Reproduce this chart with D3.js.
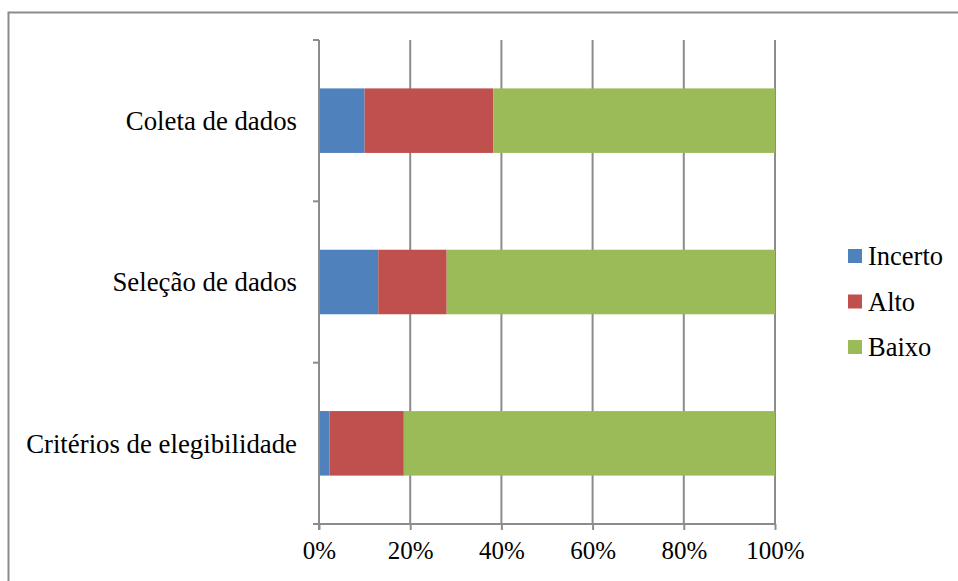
<!DOCTYPE html>
<html>
<head>
<meta charset="utf-8">
<script src="https://cdn.jsdelivr.net/npm/d3@7"></script>
<style>
  html, body { margin: 0; padding: 0; background: #fff; }
  svg { display: block; }
  text { font-family: "Liberation Serif", "Times New Roman", serif; fill: #000; }
</style>
</head>
<body>
<svg id="chart" width="958" height="581"></svg>
<script>
// Risk-of-bias judgements per domain (percent of studies)
const categories = ["Coleta de dados", "Seleção de dados", "Critérios de elegibilidade"];
const seriesNames = ["Incerto", "Alto", "Baixo"];
const incerto = [10, 13, 2.3];
const alto = [28.2, 15, 16.3];
const baixo = [61.8, 72, 81.4];
const tickValues = [0, 20, 40, 60, 80, 100];
const colors = ["#4f81bd", "#c0504d", "#9bbb59"];

const svg = d3.select("#chart");

// Outer frame
svg.append("rect")
  .attr("x", 8.5).attr("y", 12.5)
  .attr("width", 960).attr("height", 600)
  .attr("fill", "none").attr("stroke", "#8c8c8c").attr("stroke-width", 2);

const plot = { left: 319, right: 775, top: 40, bottom: 524 };

const x = d3.scaleLinear().domain([0, 100]).range([plot.left, plot.right]);
const y = d3.scaleBand().domain(categories).range([plot.top, plot.bottom]).paddingInner(0.6).paddingOuter(0.3);

// Vertical gridlines
svg.append("g").selectAll("line")
  .data(tickValues.slice(1))
  .join("line")
  .attr("x1", d => x(d)).attr("x2", d => x(d))
  .attr("y1", plot.top).attr("y2", plot.bottom)
  .attr("stroke", "#8c8c8c").attr("stroke-width", 2);

// Stack the three series
const rows = categories.map((c, i) => ({ cat: c, Incerto: incerto[i], Alto: alto[i], Baixo: baixo[i] }));
const stack = d3.stack().keys(seriesNames)(rows);

svg.append("g").selectAll("g")
  .data(stack)
  .join("g")
  .attr("fill", (d, i) => colors[i])
  .selectAll("rect")
  .data(d => d)
  .join("rect")
  .attr("x", d => x(d[0]))
  .attr("width", d => x(d[1]) - x(d[0]))
  .attr("y", d => y(d.data.cat))
  .attr("height", y.bandwidth());

// X axis (bottom) with tick marks extending below
const xAxis = d3.axisBottom(x)
  .tickValues(tickValues)
  .tickFormat(d => d + "%")
  .tickSize(6)
  .tickSizeOuter(0)
  .tickPadding(11);
const gx = svg.append("g").attr("transform", `translate(0,${plot.bottom})`).call(xAxis);
gx.select(".domain").attr("stroke", "#8c8c8c").attr("stroke-width", 2)
  .attr("d", `M${plot.left - 6},0H${plot.right}`);
gx.selectAll(".tick line").attr("stroke", "#8c8c8c").attr("stroke-width", 2);
gx.selectAll(".tick text").style("font-size", "25px").style("font-family", "Liberation Serif, serif").attr("fill", "#000");

// Y axis: vertical line with boundary ticks between categories
const gy = svg.append("g");
gy.append("line")
  .attr("x1", plot.left).attr("x2", plot.left)
  .attr("y1", plot.top).attr("y2", plot.bottom + 6)
  .attr("stroke", "#8c8c8c").attr("stroke-width", 2);
const step = (plot.bottom - plot.top) / categories.length;
gy.selectAll("line.tick")
  .data(d3.range(categories.length))
  .join("line")
  .attr("class", "tick")
  .attr("x1", plot.left - 6).attr("x2", plot.left)
  .attr("y1", d => plot.top + d * step).attr("y2", d => plot.top + d * step)
  .attr("stroke", "#8c8c8c").attr("stroke-width", 2);

// Category labels
svg.append("g").selectAll("text")
  .data(categories)
  .join("text")
  .attr("x", plot.left - 22)
  .attr("y", d => y(d) + y.bandwidth() / 2)
  .attr("dy", "0.35em")
  .attr("text-anchor", "end")
  .style("font-size", "26.8px")
  .text(d => d);

// Legend
const legend = svg.append("g").attr("transform", "translate(848,249)");
const li = legend.selectAll("g").data(seriesNames).join("g")
  .attr("transform", (d, i) => `translate(0,${i * 45.5})`);
li.append("rect").attr("width", 14).attr("height", 14).attr("fill", (d, i) => colors[i]);
li.append("text").attr("x", 20).attr("y", 7).attr("dy", "0.35em")
  .style("font-size", "26.5px").text(d => d);
</script>
</body>
</html>
